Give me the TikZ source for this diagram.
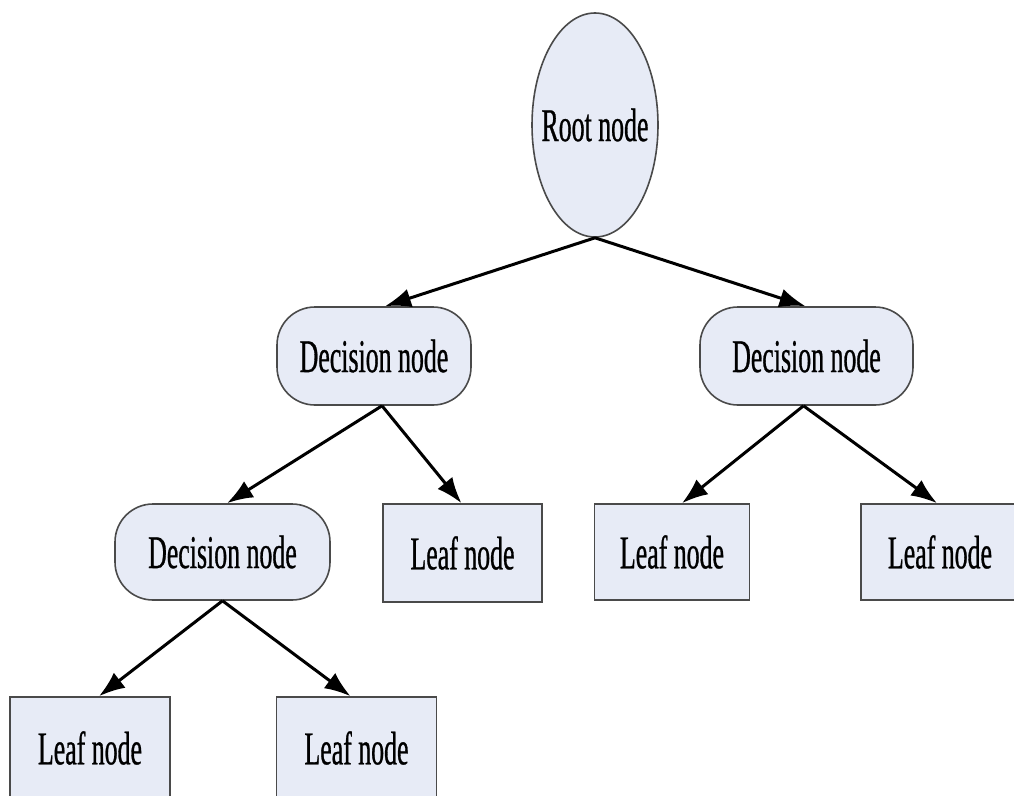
\documentclass[tikz,border=0pt]{standalone}
\usepackage{fontspec}
\newfontfamily\cf[FakeStretch=0.55,FakeBold=0.6]{Liberation Serif}
\usetikzlibrary{arrows.meta,shapes.geometric}
\definecolor{nodefill}{HTML}{E7EBF6}
\definecolor{nodeedge}{HTML}{4A4A4A}
\tikzset{
 base/.style={draw=nodeedge, line width=1.6pt, fill=nodefill, inner sep=0pt, font=\cf\fontsize{47}{50}\selectfont, text=black},
 rootnode/.style={base, ellipse, inner xsep=-20pt, minimum width=126pt, minimum height=224pt},
 decnode/.style={base, rectangle, rounded corners=38pt, minimum height=98pt},
 leafnode/.style={base, rectangle, minimum width=158pt, minimum height=98pt},
 conn/.style={line width=3pt, -{Latex[length=26pt,width=19pt]}},
}
\begin{document}
\begin{tikzpicture}[x=1pt,y=-1pt]
\useasboundingbox (0,0) rectangle (1014,795);
\fill[white] (0,0) rectangle (1014,795);
\clip (0,0) rectangle (1014,795);
\node[rootnode] (root) at (595,125) {Root node};
\node[decnode, minimum width=194pt] (ld) at (374,356) {Decision node};
\node[decnode, minimum width=213pt] (rd) at (806.5,356) {Decision node};
\node[decnode, minimum width=215pt, minimum height=96pt] (dl) at (222.5,552) {Decision node};
\node[leafnode, minimum width=159pt] (l1) at (462.5,553) {Leaf node};
\node[leafnode, minimum width=155pt, minimum height=96pt] (l2) at (672,552) {Leaf node};
\node[leafnode, minimum height=96pt] (l3) at (940,552) {Leaf node};
\node[leafnode, minimum width=160pt, minimum height=102pt] (l4) at (90,748) {Leaf node};
\node[leafnode, minimum width=160pt, minimum height=102pt] (l5) at (356.5,748) {Leaf node};
\draw[conn] (root.south) -- ([xshift=11pt]ld.north);
\draw[conn] (root.south) -- ([xshift=-1pt]rd.north);
\draw[conn] ([xshift=8pt]ld.south) -- ([xshift=4.5pt]dl.north);
\draw[conn] ([xshift=8pt]ld.south) -- ([xshift=-1pt]l1.north);
\draw[conn] ([xshift=-3pt]rd.south) -- ([xshift=10pt]l2.north);
\draw[conn] ([xshift=-3pt]rd.south) -- ([xshift=-3pt]l3.north);
\draw[conn] (dl.south) -- ([xshift=9pt]l4.north);
\draw[conn] (dl.south) -- ([xshift=-6pt]l5.north);
\end{tikzpicture}
\end{document}
